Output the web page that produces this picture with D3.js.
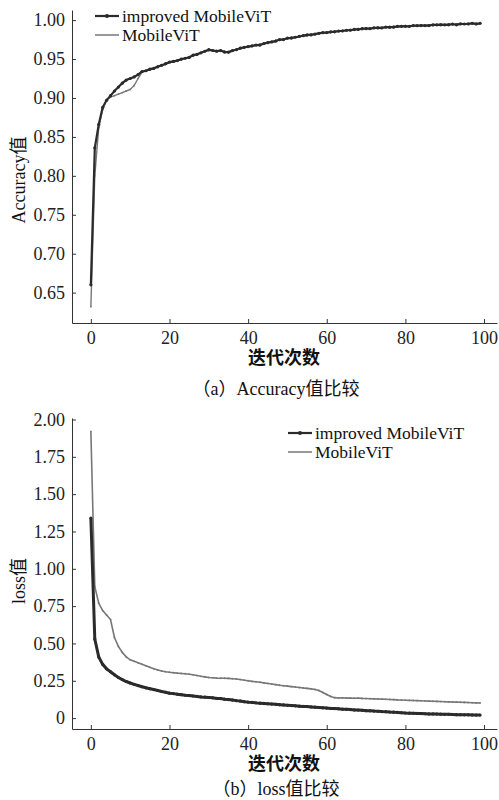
<!DOCTYPE html>
<html>
<head>
<meta charset="utf-8">
<script src="https://cdn.jsdelivr.net/npm/d3@7"></script>
<style>
  body { margin: 0; background: #fff; }
  svg { display: block; font-family: "Liberation Serif", "Noto Sans CJK SC", serif; }
</style>
</head>
<body>
<div id="chart"></div>
<script>
// epochs 0..99
var epochs = d3.range(0, 100);

var accImproved = [
  0.660, 0.836, 0.866, 0.888, 0.897, 0.903, 0.909, 0.914, 0.919, 0.923,
  0.925, 0.927, 0.930, 0.934, 0.935, 0.937, 0.938, 0.940, 0.942, 0.944,
  0.946, 0.947, 0.948, 0.950, 0.951, 0.952, 0.955, 0.956, 0.958, 0.960,
  0.962, 0.961, 0.960, 0.961, 0.959, 0.959, 0.961, 0.962, 0.964, 0.965,
  0.966, 0.967, 0.968, 0.968, 0.970, 0.971, 0.972, 0.973, 0.975, 0.975,
  0.977, 0.977, 0.978, 0.979, 0.980, 0.981, 0.981, 0.982, 0.983, 0.984,
  0.984, 0.985, 0.985, 0.986, 0.986, 0.987, 0.987, 0.988, 0.988, 0.989,
  0.989, 0.989, 0.990, 0.990, 0.990, 0.991, 0.991, 0.991, 0.992, 0.992,
  0.992, 0.992, 0.993, 0.993, 0.993, 0.993, 0.993, 0.994, 0.994, 0.994,
  0.994, 0.994, 0.995, 0.994, 0.995, 0.995, 0.995, 0.996, 0.995, 0.996
];
var accMobile = [
  0.632, 0.800, 0.862, 0.885, 0.898, 0.901, 0.903, 0.905, 0.907, 0.909,
  0.911, 0.916, 0.925, 0.933, 0.935, 0.936, 0.938, 0.941, 0.942, 0.943,
  0.946, 0.946, 0.948, 0.949, 0.951, 0.953, 0.954, 0.956, 0.958, 0.960,
  0.961, 0.961, 0.961, 0.960, 0.960, 0.958, 0.960, 0.962, 0.963, 0.965,
  0.966, 0.966, 0.968, 0.969, 0.969, 0.971, 0.972, 0.974, 0.974, 0.976,
  0.976, 0.978, 0.978, 0.979, 0.980, 0.980, 0.982, 0.982, 0.983, 0.983,
  0.984, 0.984, 0.986, 0.985, 0.987, 0.986, 0.988, 0.987, 0.989, 0.988,
  0.990, 0.989, 0.990, 0.991, 0.990, 0.991, 0.990, 0.992, 0.991, 0.992,
  0.993, 0.992, 0.993, 0.992, 0.994, 0.993, 0.994, 0.993, 0.994, 0.995,
  0.994, 0.995, 0.994, 0.995, 0.996, 0.995, 0.996, 0.995, 0.996, 0.995
];

var lossImproved = [
  1.340, 0.530, 0.410, 0.360, 0.330, 0.310, 0.290, 0.272, 0.258, 0.245,
  0.235, 0.226, 0.218, 0.210, 0.203, 0.197, 0.191, 0.185, 0.178, 0.173,
  0.167, 0.164, 0.160, 0.157, 0.153, 0.151, 0.148, 0.145, 0.142, 0.140,
  0.138, 0.136, 0.132, 0.131, 0.127, 0.124, 0.121, 0.117, 0.114, 0.110,
  0.107, 0.105, 0.102, 0.100, 0.098, 0.096, 0.094, 0.092, 0.090, 0.088,
  0.086, 0.084, 0.082, 0.080, 0.078, 0.077, 0.075, 0.073, 0.071, 0.069,
  0.067, 0.065, 0.064, 0.062, 0.060, 0.059, 0.057, 0.055, 0.054, 0.052,
  0.050, 0.049, 0.047, 0.046, 0.044, 0.043, 0.041, 0.040, 0.038, 0.036,
  0.034, 0.033, 0.032, 0.031, 0.030, 0.029, 0.028, 0.028, 0.027, 0.026,
  0.025, 0.025, 0.024, 0.023, 0.023, 0.022, 0.022, 0.021, 0.020, 0.020
];
var lossMobile = [
  1.920, 0.880, 0.770, 0.720, 0.690, 0.660, 0.540, 0.480, 0.440, 0.410,
  0.390, 0.380, 0.370, 0.360, 0.350, 0.340, 0.330, 0.322, 0.316, 0.311,
  0.307, 0.304, 0.301, 0.299, 0.297, 0.294, 0.290, 0.285, 0.280, 0.276,
  0.272, 0.270, 0.268, 0.267, 0.267, 0.266, 0.264, 0.262, 0.258, 0.254,
  0.250, 0.246, 0.243, 0.240, 0.236, 0.232, 0.228, 0.224, 0.220, 0.217,
  0.214, 0.211, 0.208, 0.205, 0.202, 0.199, 0.196, 0.192, 0.185, 0.172,
  0.158, 0.145, 0.137, 0.135, 0.136, 0.134, 0.135, 0.133, 0.134, 0.132,
  0.131, 0.130, 0.129, 0.128, 0.127, 0.126, 0.125, 0.124, 0.122, 0.121,
  0.120, 0.119, 0.118, 0.117, 0.116, 0.115, 0.114, 0.113, 0.112, 0.111,
  0.110, 0.109, 0.108, 0.107, 0.106, 0.105, 0.104, 0.103, 0.102, 0.101
];

var xTicks = [0, 20, 40, 60, 80, 100];
var accTicks = [0.65, 0.70, 0.75, 0.80, 0.85, 0.90, 0.95, 1.00];
var lossTicks = [0, 0.25, 0.50, 0.75, 1.00, 1.25, 1.50, 1.75, 2.00];
var seriesNames = ["improved MobileViT", "MobileViT"];

var W = 499, H = 800;
var svg = d3.select("#chart").append("svg")
  .attr("width", W).attr("height", H);

var colorImp = "#2b2b2b", colorMob = "#777";

function drawPanel(opt) {
  var x = d3.scaleLinear().domain([-4.8, 103.3]).range([72, 497]);
  var y = d3.scaleLinear().domain(opt.yDomain).range([opt.bottom, opt.top]);

  var g = svg.append("g");

  // axes (inward ticks, left + bottom only)
  var ax = g.append("g")
    .attr("transform", "translate(0," + opt.bottom + ")")
    .call(d3.axisBottom(x).tickValues(xTicks).tickSizeInner(-4).tickSizeOuter(0).tickPadding(8));
  var ay = g.append("g")
    .attr("transform", "translate(72,0)")
    .call(d3.axisLeft(y).tickValues(opt.ticks).tickSizeInner(-4).tickSizeOuter(0).tickPadding(7)
      .tickFormat(opt.fmt));
  [ax, ay].forEach(function (a) {
    a.selectAll("text").style("font-size", "18px").attr("fill", "#222")
      .style("font-family", "Liberation Serif");
    a.selectAll("path, line").attr("stroke", "#333").attr("stroke-width", 1);
  });

  // lines
  var line = function (vals) {
    return d3.line().x(function (d, i) { return x(epochs[i]); })
      .y(function (d) { return y(d); })(vals);
  };
  g.append("path").attr("d", line(opt.mob)).attr("fill", "none")
    .attr("stroke", colorMob).attr("stroke-width", opt.mobWidth);
  g.append("g").selectAll("circle").data(opt.mob).enter().append("circle")
    .attr("cx", function (d, i) { return x(epochs[i]); })
    .attr("cy", function (d) { return y(d); })
    .attr("r", 0.9).attr("fill", colorMob);
  g.append("path").attr("d", line(opt.imp)).attr("fill", "none")
    .attr("stroke", colorImp).attr("stroke-width", opt.impWidth);
  g.append("g").selectAll("circle").data(opt.imp).enter().append("circle")
    .attr("cx", function (d, i) { return x(epochs[i]); })
    .attr("cy", function (d) { return y(d); })
    .attr("r", 1.6).attr("fill", colorImp);

  // legend
  var lg = g.append("g");
  [colorImp, colorMob].forEach(function (c, i) {
    var yy = opt.legY + i * 19;
    lg.append("line").attr("x1", opt.legX).attr("x2", opt.legX + 24)
      .attr("y1", yy).attr("y2", yy).attr("stroke", c)
      .attr("stroke-width", i == 0 ? 2.2 : 1.5);
    if (i == 0) {
      lg.append("circle").attr("cx", opt.legX + 12).attr("cy", yy).attr("r", 2).attr("fill", c);
    }
    lg.append("text").attr("x", opt.legX + 27).attr("y", yy + 6)
      .style("font-size", "17.5px").attr("fill", "#111").text(seriesNames[i]);
  });

  // y label
  g.append("text")
    .attr("transform", "translate(25," + opt.yLabelY + ") rotate(-90)")
    .attr("text-anchor", "middle")
    .style("font-size", "18px").attr("fill", "#111")
    .text(opt.yLabel);

  // x label
  g.append("text").attr("x", 284).attr("y", opt.bottom + 41)
    .attr("text-anchor", "middle")
    .style("font-size", "18px").style("font-weight", "bold").attr("fill", "#111")
    .text("迭代次数");

  // caption
  g.append("text").attr("x", 276).attr("y", opt.captionY)
    .attr("text-anchor", "middle")
    .style("font-size", "18px").attr("fill", "#111")
    .text(opt.caption);
}

drawPanel({
  top: 10, bottom: 323, yDomain: [0.611, 1.013], ticks: accTicks,
  fmt: d3.format(".2f"), imp: accImproved, mob: accMobile,
  impWidth: 2.2, mobWidth: 1.4,
  legX: 95, legY: 16, yLabel: "Accuracy值", yLabelY: 180,
  caption: "（a）Accuracy值比较", captionY: 395
});

drawPanel({
  top: 418, bottom: 729, yDomain: [-0.073, 2.01], ticks: lossTicks,
  fmt: function (d) { return d == 0 ? "0" : d3.format(".2f")(d); },
  imp: lossImproved, mob: lossMobile,
  impWidth: 3, mobWidth: 1.6,
  legX: 288, legY: 433, yLabel: "loss值", yLabelY: 581,
  caption: "（b）loss值比较", captionY: 795
});
</script>
</body>
</html>
